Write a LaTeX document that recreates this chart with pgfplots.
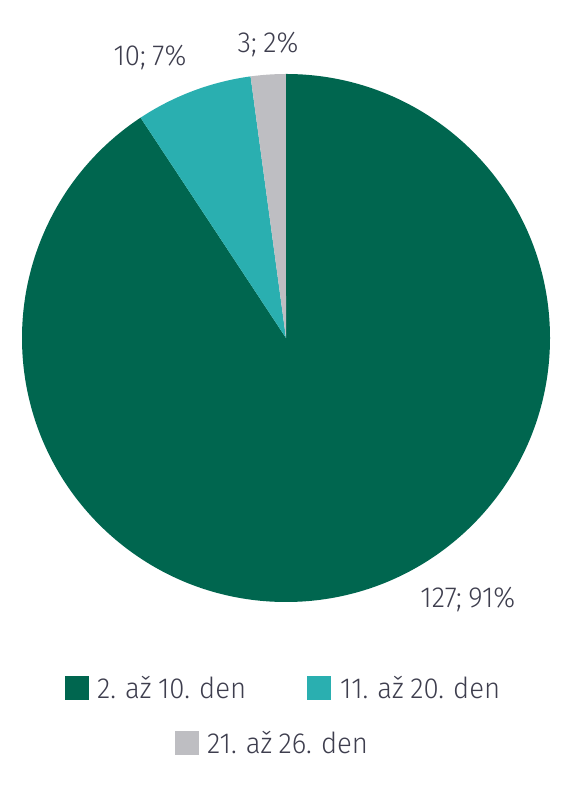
\documentclass[border=0pt]{standalone}
\usepackage{pgfplots}
\usepackage{pgfplotstable}
\usepackage{fontspec}
\setmainfont{Fira Sans Light}[FakeStretch=0.95, WordSpace=0.85]
\pgfplotsset{compat=1.18}

\definecolor{cA}{HTML}{00664F}
\definecolor{cB}{HTML}{2AAFB0}
\definecolor{cC}{HTML}{BEBEC2}
\definecolor{txt}{HTML}{3E3E4E}

% number of cases per day range
\pgfplotstableread{
n
127
10
3
}\piedata

\pgfplotstablegetelem{0}{n}\of\piedata \pgfmathsetmacro\na{\pgfplotsretval}
\pgfplotstablegetelem{1}{n}\of\piedata \pgfmathsetmacro\nb{\pgfplotsretval}
\pgfplotstablegetelem{2}{n}\of\piedata \pgfmathsetmacro\nc{\pgfplotsretval}
\pgfmathsetmacro\total{\na+\nb+\nc}
\pgfmathsetmacro\aA{90-\na/\total*360}
\pgfmathsetmacro\aB{\aA-\nb/\total*360}
\pgfmathsetmacro\aC{\aB-\nc/\total*360}

\begin{document}
\begin{tikzpicture}[font=\fontsize{29}{34}\selectfont, text=txt]
  \path (0,0) rectangle (561pt,800pt);
  \begin{axis}[
      at={(286pt,462pt)}, anchor=center,
      scale only axis, width=528pt, height=528pt,
      xmin=-1, xmax=1, ymin=-1, ymax=1,
      hide axis, clip=false
    ]
    \fill[cA] (axis cs:0,0) -- (axis cs:0,1)
      arc[start angle=90, end angle=\aA, radius=264pt] -- cycle;
    \fill[cB] (axis cs:0,0) -- (axis cs:{cos(\aA)},{sin(\aA)})
      arc[start angle=\aA, end angle=\aB, radius=264pt] -- cycle;
    \fill[cC] (axis cs:0,0) -- (axis cs:{cos(\aB)},{sin(\aB)})
      arc[start angle=\aB, end angle=\aC, radius=264pt] -- cycle;

    \node at (axis cs:-0.515,1.061) {10; 7\%};
    \node at (axis cs:-0.068,1.11) {3; 2\%};
    \node at (axis cs:0.689,-0.992) {127; 91\%};
  \end{axis}

  % legend
  \fill[cA] (65pt,100pt) rectangle (89pt,124pt);
  \node[anchor=west, inner sep=0pt] at (97pt,112pt) {2. až 10. den};
  \fill[cB] (307pt,100pt) rectangle (331pt,124pt);
  \node[anchor=west, inner sep=0pt] at (340pt,112pt) {11. až 20. den};
  \fill[cC] (175pt,45pt) rectangle (199pt,69pt);
  \node[anchor=west, inner sep=0pt] at (207pt,57pt) {21. až 26. den};
\end{tikzpicture}
\end{document}
